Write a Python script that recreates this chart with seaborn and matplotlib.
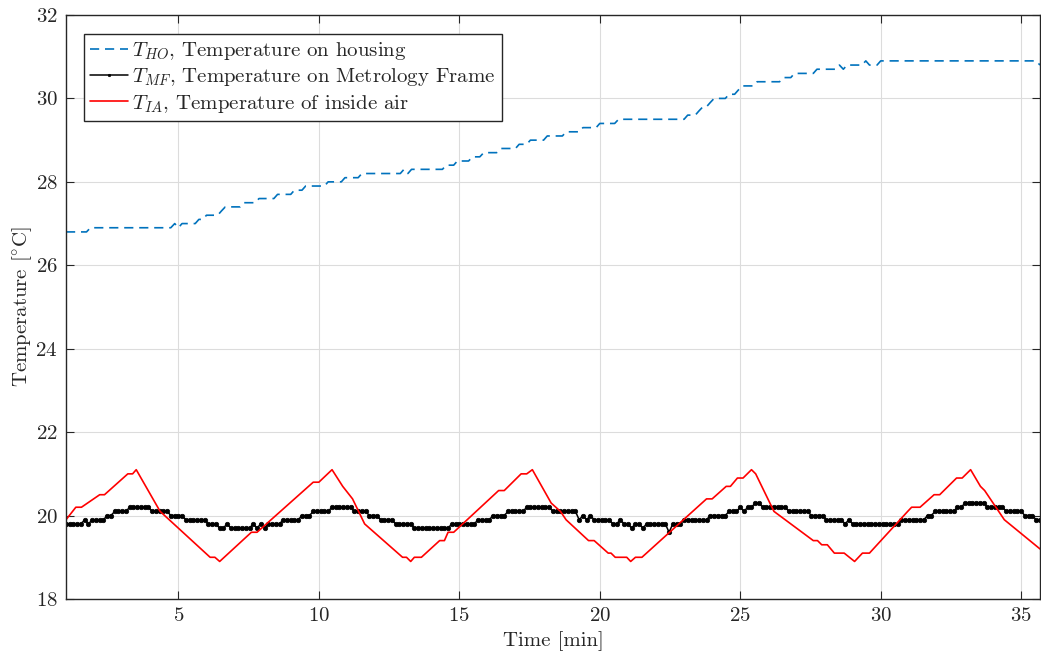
import numpy as np
import pandas as pd
import matplotlib
matplotlib.use("Agg")
import matplotlib.pyplot as plt
import seaborn as sns

# ---- Metrology frame temperature, logged every 8 s from t = 1 min ----
MF_START_MIN = 1.0
MF_PERIOD_MIN = 8.0 / 60.0
MF_TEMP = [
    19.8, 19.8, 19.8, 19.8, 19.8, 19.9, 19.8, 19.9, 19.9, 19.9,
    19.9, 20.0, 20.0, 20.1, 20.1, 20.1, 20.1, 20.2, 20.2, 20.2,
    20.2, 20.2, 20.2, 20.1, 20.1, 20.1, 20.1, 20.1, 20.0, 20.0,
    20.0, 20.0, 19.9, 19.9, 19.9, 19.9, 19.9, 19.9, 19.8, 19.8,
    19.8, 19.7, 19.7, 19.8, 19.7, 19.7, 19.7, 19.7, 19.7, 19.7,
    19.8, 19.7, 19.8, 19.7, 19.8, 19.8, 19.8, 19.8, 19.9, 19.9,
    19.9, 19.9, 19.9, 20.0, 20.0, 20.0, 20.1, 20.1, 20.1, 20.1,
    20.1, 20.2, 20.2, 20.2, 20.2, 20.2, 20.2, 20.1, 20.1, 20.1,
    20.1, 20.0, 20.0, 20.0, 19.9, 19.9, 19.9, 19.9, 19.8, 19.8,
    19.8, 19.8, 19.8, 19.7, 19.7, 19.7, 19.7, 19.7, 19.7, 19.7,
    19.7, 19.7, 19.7, 19.8, 19.8, 19.8, 19.8, 19.8, 19.8, 19.8,
    19.9, 19.9, 19.9, 19.9, 20.0, 20.0, 20.0, 20.0, 20.1, 20.1,
    20.1, 20.1, 20.1, 20.2, 20.2, 20.2, 20.2, 20.2, 20.2, 20.2,
    20.1, 20.1, 20.1, 20.1, 20.1, 20.1, 20.1, 19.9, 20.0, 19.9,
    20.0, 19.9, 19.9, 19.9, 19.9, 19.9, 19.8, 19.8, 19.9, 19.8,
    19.8, 19.7, 19.8, 19.8, 19.7, 19.8, 19.8, 19.8, 19.8, 19.8,
    19.8, 19.6, 19.8, 19.8, 19.8, 19.9, 19.9, 19.9, 19.9, 19.9,
    19.9, 19.9, 20.0, 20.0, 20.0, 20.0, 20.0, 20.1, 20.1, 20.1,
    20.2, 20.1, 20.2, 20.2, 20.3, 20.3, 20.2, 20.2, 20.2, 20.2,
    20.2, 20.2, 20.2, 20.1, 20.1, 20.1, 20.1, 20.1, 20.1, 20.0,
    20.0, 20.0, 20.0, 19.9, 19.9, 19.9, 19.9, 19.9, 19.8, 19.9,
    19.8, 19.8, 19.8, 19.8, 19.8, 19.8, 19.8, 19.8, 19.8, 19.8,
    19.8, 19.8, 19.8, 19.9, 19.9, 19.9, 19.9, 19.9, 19.9, 19.9,
    20.0, 20.0, 20.1, 20.1, 20.1, 20.1, 20.1, 20.1, 20.2, 20.2,
    20.3, 20.3, 20.3, 20.3, 20.3, 20.3, 20.2, 20.2, 20.2, 20.2,
    20.2, 20.1, 20.1, 20.1, 20.1, 20.1, 20.0, 20.0, 20.0, 19.9,
    19.9,
]

# ---- Housing temperature (change points of the logged record) ----
HO_TIME = [
    1.00, 1.73, 1.87, 4.73, 4.87, 5.00, 5.13, 5.60, 5.73, 5.87,
    6.00, 6.40, 6.53, 6.67, 7.20, 7.33, 7.73, 7.87, 8.40, 8.53,
    9.00, 9.13, 9.40, 9.53, 10.20, 10.33, 10.80, 10.93, 11.40, 11.53,
    12.90, 13.03, 13.17, 13.30, 14.40, 14.53, 14.80, 14.93, 15.33, 15.47,
    15.73, 15.87, 16.33, 16.47, 17.00, 17.13, 17.40, 17.53, 18.00, 18.13,
    18.67, 18.80, 19.27, 19.40, 19.87, 20.00, 20.53, 20.67, 23.00, 23.13,
    23.40, 23.53, 23.67, 23.80, 23.93, 24.07, 24.47, 24.60, 24.80, 24.93,
    25.07, 25.47, 25.60, 26.40, 26.53, 26.80, 26.93, 27.60, 27.73, 28.40,
    28.53, 28.67, 28.80, 29.33, 29.47, 29.60, 29.87, 30.00, 35.53, 35.67,
]
HO_TEMP = [
    26.8, 26.8, 26.9, 26.9, 27.0, 26.9, 27.0, 27.0, 27.1, 27.1,
    27.2, 27.2, 27.3, 27.4, 27.4, 27.5, 27.5, 27.6, 27.6, 27.7,
    27.7, 27.8, 27.8, 27.9, 27.9, 28.0, 28.0, 28.1, 28.1, 28.2,
    28.2, 28.3, 28.2, 28.3, 28.3, 28.4, 28.4, 28.5, 28.5, 28.6,
    28.6, 28.7, 28.7, 28.8, 28.8, 28.9, 28.9, 29.0, 29.0, 29.1,
    29.1, 29.2, 29.2, 29.3, 29.3, 29.4, 29.4, 29.5, 29.5, 29.6,
    29.6, 29.7, 29.8, 29.8, 29.9, 30.0, 30.0, 30.1, 30.1, 30.2,
    30.3, 30.3, 30.4, 30.4, 30.5, 30.5, 30.6, 30.6, 30.7, 30.7,
    30.8, 30.7, 30.8, 30.8, 30.9, 30.8, 30.8, 30.9, 30.9, 30.8,
]

# ---- Inside air temperature (change points of the logged record) ----
IA_TIME = [
    1.00, 1.35, 1.55, 2.20, 2.37, 3.20, 3.37, 3.50, 4.35, 6.13,
    6.30, 6.47, 7.60, 7.80, 9.80, 10.00, 10.47, 10.85, 11.20, 11.63,
    12.98, 13.12, 13.27, 13.40, 13.65, 14.30, 14.47, 14.60, 14.80, 16.40,
    16.60, 17.20, 17.40, 17.60, 18.27, 18.60, 18.80, 19.60, 19.80, 20.30,
    20.40, 20.55, 20.96, 21.10, 21.27, 21.50, 23.80, 24.00, 24.50, 24.65,
    24.90, 25.10, 25.40, 25.55, 26.20, 27.60, 27.75, 27.90, 28.10, 28.35,
    28.70, 29.07, 29.35, 29.60, 30.96, 31.10, 31.40, 31.90, 32.10, 32.70,
    32.90, 33.20, 33.55, 33.70, 34.40, 35.67,
]
IA_TEMP = [
    19.9, 20.2, 20.2, 20.5, 20.5, 21.0, 21.0, 21.1, 20.1, 19.0,
    19.0, 18.9, 19.6, 19.6, 20.8, 20.8, 21.1, 20.7, 20.4, 19.8,
    19.0, 19.0, 18.9, 19.0, 19.0, 19.4, 19.4, 19.6, 19.6, 20.6,
    20.6, 21.0, 21.0, 21.1, 20.3, 20.1, 19.9, 19.4, 19.4, 19.1,
    19.1, 19.0, 19.0, 18.9, 19.0, 19.0, 20.4, 20.4, 20.7, 20.7,
    20.9, 20.9, 21.1, 21.0, 20.1, 19.4, 19.4, 19.3, 19.3, 19.1,
    19.1, 18.9, 19.1, 19.1, 20.1, 20.2, 20.2, 20.5, 20.5, 20.9,
    20.9, 21.1, 20.7, 20.6, 19.9, 19.2,
]

X_TICKS = [5, 10, 15, 20, 25, 30, 35]
Y_TICKS = [18, 20, 22, 24, 26, 28, 30, 32]

LABEL_HO = r"$T_{HO}$, Temperature on housing"
LABEL_MF = r"$T_{MF}$, Temperature on Metrology Frame"
LABEL_IA = r"$T_{IA}$, Temperature of inside air"

mf = pd.DataFrame({
    "time": MF_START_MIN + MF_PERIOD_MIN * np.arange(len(MF_TEMP)),
    "temp": MF_TEMP,
})
ho = pd.DataFrame({"time": HO_TIME, "temp": HO_TEMP})
ia = pd.DataFrame({"time": IA_TIME, "temp": IA_TEMP})

sns.set_theme(style="ticks")
plt.rcParams.update({
    "font.family": "serif",
    "font.serif": ["cmr10", "DejaVu Serif"],
    "mathtext.fontset": "cm",
    "axes.formatter.use_mathtext": True,
    "axes.unicode_minus": False,
})

AX_COLOR = "#262626"
fig = plt.figure(figsize=(10.41, 6.56), dpi=100)
ax = fig.add_axes([66 / 1041, 57 / 656, (1040 - 66) / 1041, (599 - 15) / 656])

sns.lineplot(data=ho, x="time", y="temp", ax=ax, color="#0072BD",
             linewidth=1.2, dashes=False, sort=False, estimator=None,
             label=LABEL_HO)
ax.lines[-1].set_dashes((5.5, 3.5))
sns.lineplot(data=mf, x="time", y="temp", ax=ax, color="black",
             linewidth=1.1, marker=".", markersize=6.5, markeredgewidth=0.5,
             markeredgecolor="black", sort=False, estimator=None,
             label=LABEL_MF)
sns.lineplot(data=ia, x="time", y="temp", ax=ax, color="#FF0000",
             linewidth=1.2, sort=False, estimator=None, label=LABEL_IA)

ax.set_xlim(1.0, 35.67)
ax.set_ylim(18, 32)
ax.set_xticks(X_TICKS)
ax.set_yticks(Y_TICKS)
ax.grid(True, color="#dcdcdc", linewidth=0.8)
ax.set_axisbelow(True)
for side in ["left", "right", "top", "bottom"]:
    ax.spines[side].set_visible(True)
    ax.spines[side].set_color(AX_COLOR)
    ax.spines[side].set_linewidth(1.0)
ax.tick_params(direction="in", length=6, width=0.8, color=AX_COLOR,
               top=True, right=True, labelsize=15, labelcolor="#262626",
               pad=6)
ax.set_xlabel("Time [min]", fontsize=15, color="#262626", labelpad=4)
ax.set_ylabel(r"Temperature [$^{\circ}$C]", fontsize=15, color="#262626",
              labelpad=1)

leg = ax.legend(loc="upper left", bbox_to_anchor=(18 / 974, 1 - 19 / 584),
                fontsize=15, frameon=True, fancybox=False, framealpha=1,
                edgecolor=AX_COLOR, borderpad=0.3, labelspacing=0.2,
                handlelength=1.8, handletextpad=0.2, borderaxespad=0)
leg.get_frame().set_linewidth(1.0)
# small dot on the frame-temperature legend handle
leg.legend_handles[1].set_markersize(3.5)

fig.savefig("out.png", dpi=100)
